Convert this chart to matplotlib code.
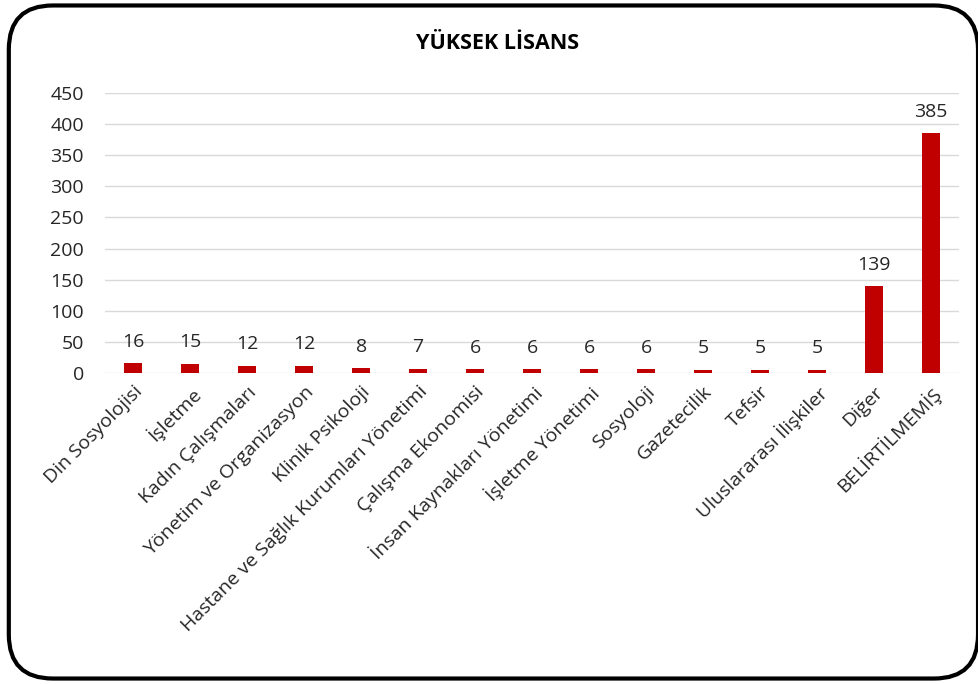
import numpy as np
import matplotlib.pyplot as plt
from matplotlib.patches import FancyBboxPatch

# Veriler
bolumler = ['Din Sosyolojisi', 'İşletme', 'Kadın Çalışmaları', 'Yönetim ve Organizasyon',
            'Klinik Psikoloji', 'Hastane ve Sağlık Kurumları Yönetimi', 'Çalışma Ekonomisi',
            'İnsan Kaynakları Yönetimi', 'İşletme Yönetimi', 'Sosyoloji', 'Gazetecilik',
            'Tefsir', 'Uluslararası İlişkiler', 'Diğer', 'BELİRTİLMEMİŞ']
sayilar = [16, 15, 12, 12, 8, 7, 6, 6, 6, 6, 5, 5, 5, 139, 385]
y_ticks = [0, 50, 100, 150, 200, 250, 300, 350, 400, 450]

plt.rcParams['font.family'] = ['Open Sans', 'DejaVu Sans']

fig = plt.figure(figsize=(9.79, 6.84), dpi=100)
ax = fig.add_axes([0.107, 0.4547, 0.873, 0.4094])

x = np.arange(len(bolumler))
ax.bar(x, sayilar, width=0.32, color='#C00000', zorder=3)

for xi, v in zip(x, sayilar):
    ax.annotate(str(v), (xi, v), xytext=(0, 9), textcoords='offset points',
                ha='center', va='bottom', fontsize=14, color='#262626')

ax.set_xlim(-0.5, len(bolumler) - 0.5)
ax.set_ylim(0, 450)
ax.set_yticks(y_ticks)
ax.set_yticklabels([str(t) for t in y_ticks], fontsize=14, color='#262626')
ax.set_xticks(x)
ax.set_xticklabels(bolumler, rotation=45, ha='right', rotation_mode='anchor',
                   fontsize=14, color='#262626')
ax.tick_params(axis='x', length=0, pad=7)
ax.tick_params(axis='y', length=0, pad=15)
ax.grid(axis='y', color='#D9D9D9', linewidth=1, zorder=0)
for s in ax.spines.values():
    s.set_visible(False)

fig.text(0.508, 0.937, 'YÜKSEK LİSANS', ha='center', va='center',
         fontsize=15.5, fontweight='bold', color='#000000')

kutu = FancyBboxPatch((0.009, 0.008), 0.99, 0.984, boxstyle='round,pad=0,rounding_size=0.045',
                      transform=fig.transFigure, fill=False, edgecolor='black',
                      linewidth=3, mutation_aspect=979 / 684)
fig.patches.append(kutu)

fig.savefig('out.png', dpi=100)
